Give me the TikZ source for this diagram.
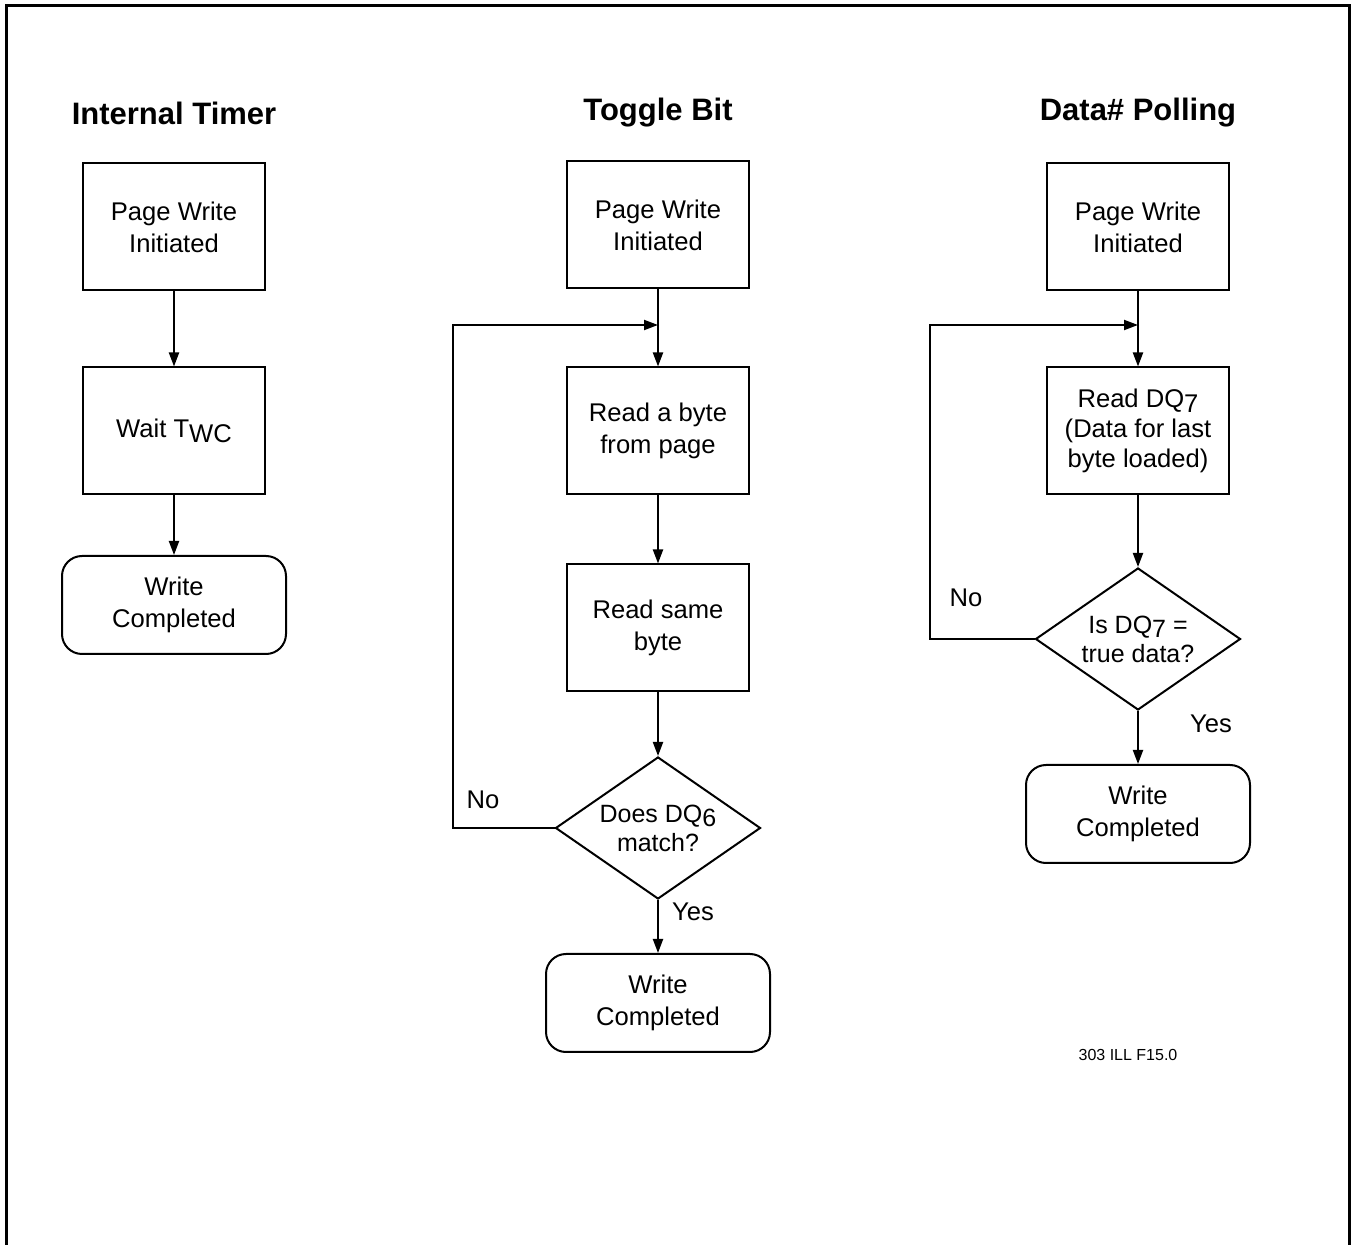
\documentclass[tikz,border=0pt]{standalone}
\usepackage{fontspec}
\setmainfont{Liberation Sans}
\usepackage{tikz}
\usetikzlibrary{arrows.meta,shapes.geometric}

\newcommand{\lowsub}[1]{\raisebox{-0.35ex}{#1}}

\tikzset{
  box/.style={draw, line width=1pt, minimum width=91pt, minimum height=63.5pt,
              align=center, inner sep=2pt},
  endbox/.style={draw, line width=1pt, rounded corners=10pt, minimum width=112pt,
                 minimum height=49pt, align=center},
  decision/.style={draw, line width=1pt, diamond, aspect=1.44, minimum width=102.5pt,
                   minimum height=71pt, inner sep=0pt, align=center,
                   font=\fontsize{12.5}{14.5}\selectfont},
  title/.style={font=\fontsize{15.5}{18}\selectfont\bfseries},
  arr/.style={-{Triangle[length=7pt,width=5pt]}, line width=1pt}
}

\begin{document}
\begin{tikzpicture}[x=0.5pt, y=-0.5pt, font=\fontsize{12.8}{16}\selectfont]
  \useasboundingbox (0,0) rectangle (1351,1245);
  \draw[line width=1.5pt] (6,1245) -- (6,6) -- (1349,6) -- (1349,1245);

  % internal timer
  \node[title] (t1) at (174,113) {Internal Timer};
  \node[box] (pw1) at (174,227) {Page Write\\Initiated};
  \node[box] (wait) at (174,431) {Wait T\lowsub{WC}};
  \node[endbox] (done1) at (174,605) {Write\\Completed};

  \draw[arr] (pw1) -- (wait);
  \draw[arr] (wait) -- (done1);

  % toggle bit
  \node[title] (t2) at (658,113) {Toggle Bit};
  \node[box] (pw2) at (658,225) {Page Write\\Initiated};
  \node[box] (rd2) at (658,431) {Read a byte\\from page};
  \node[box] (same) at (658,628) {Read same\\byte};
  \node[decision] (tdec) at (658,828) {Does DQ\lowsub{6}\\match?};
  \node[endbox] (done2) at (658,1003) {Write\\Completed};
  \node (no2) at (483,800) {No};
  \node (yes2) at (693,912) {Yes};
  \coordinate (tl) at (453,325);
  \coordinate (tj) at (658,325);

  \draw[arr] (pw2) -- (rd2);
  \draw[arr] (rd2) -- (same);
  \draw[arr] (same) -- (tdec);
  \draw[arr] (tdec) -- (done2);
  \draw[arr] (tdec.west) -| (tl) -- (tj);

  % data polling
  \node[title] (t3) at (1138,113) {Data\# Polling};
  \node[box] (pw3) at (1138,227) {Page Write\\Initiated};
  \node[box, font=\fontsize{12.8}{15}\selectfont] (rd3) at (1138,431)
    {Read DQ\lowsub{7}\\(Data for last\\byte loaded)};
  \node[decision] (pdec) at (1138,639) {Is DQ\lowsub{7} =\\true data?};
  \node[endbox] (done3) at (1138,814) {Write\\Completed};
  \node (no3) at (966,598) {No};
  \node (yes3) at (1211,724) {Yes};
  \coordinate (pl) at (930,325);
  \coordinate (pj) at (1138,325);

  \draw[arr] (pw3) -- (rd3);
  \draw[arr] (rd3) -- (pdec);
  \draw[arr] (pdec) -- (done3);
  \draw[arr] (pdec.west) -| (pl) -- (pj);

  \node[font=\fontsize{8}{10}\selectfont] (ref) at (1128,1055) {303 ILL F15.0};
\end{tikzpicture}
\end{document}
